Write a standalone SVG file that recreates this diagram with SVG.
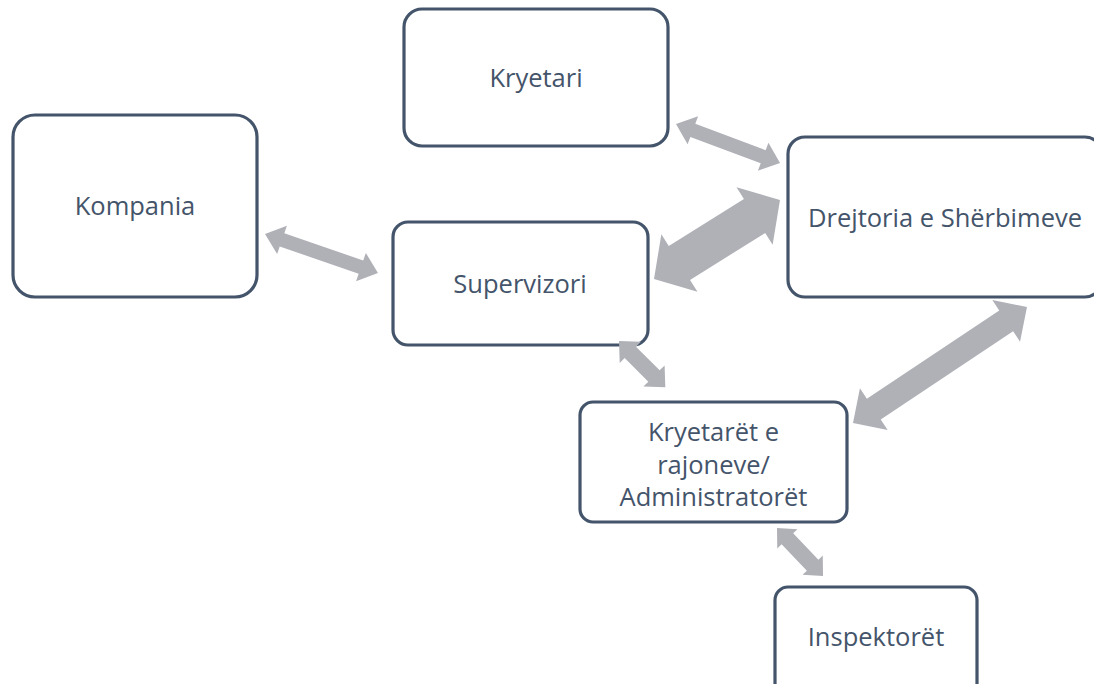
<svg xmlns="http://www.w3.org/2000/svg" width="1094" height="684" viewBox="0 0 1094 684">
<style>
.box{fill:#ffffff;stroke:#44546A;stroke-width:3.2}
.lbl{font-family:"Open Sans","Noto Sans",sans-serif;font-size:25.5px;fill:#44546A;text-anchor:middle}
.arr{fill:#AFB1B7;stroke:none}
</style>
<rect width="1094" height="684" fill="#ffffff"/>
<g id="kompania"><rect class="box" x="13" y="115" width="244" height="182" rx="22"/><text class="lbl" x="135" y="215">Kompania</text></g>
<g id="kryetari"><rect class="box" x="404" y="9" width="264" height="137" rx="18"/><text class="lbl" x="536" y="87">Kryetari</text></g>
<g id="supervizori"><rect class="box" x="393" y="222" width="255" height="123" rx="15"/><text class="lbl" x="520" y="293">Supervizori</text></g>
<g id="drejtoria"><rect class="box" x="788" y="137" width="314" height="160" rx="17"/><text class="lbl" x="945" y="227">Drejtoria e Shërbimeve</text></g>
<g id="kryetaret"><rect class="box" x="580" y="402" width="267" height="120" rx="13"/><text class="lbl" x="713.5" y="441">Kryetarët e</text><text class="lbl" x="713.5" y="474">rajoneve/</text><text class="lbl" x="713.5" y="506">Administratorët</text></g>
<g id="inspektoret"><rect class="box" x="775" y="587" width="202" height="113" rx="13"/><text class="lbl" x="876" y="646">Inspektorët</text></g>
<g id="connectors">
<polygon class="arr" transform="translate(676,124) rotate(20.56)" points="0,0 18,-15 18,-7 93.1,-7 93.1,-15 111.1,0 93.1,15 93.1,7 18,7 18,15"/>
<polygon class="arr" transform="translate(654,279) rotate(-32.09)" points="0,0 30,-34 30,-20 118.7,-20 118.7,-34 148.7,0 118.7,34 118.7,20 30,20 30,34"/>
<polygon class="arr" transform="translate(265,234) rotate(19.04)" points="0,0 18,-15 18,-7 101.5,-7 101.5,-15 119.5,0 101.5,15 101.5,7 18,7 18,15"/>
<polygon class="arr" transform="translate(853,423) rotate(-33.69)" points="0,0 25,-25 25,-12.5 184.1,-12.5 184.1,-25 209.1,0 184.1,25 184.1,12.5 25,12.5 25,25"/>
<polygon class="arr" transform="translate(619,341) rotate(45)" points="0,0 16,-15 16,-8 49.5,-8 49.5,-15 65.5,0 49.5,15 49.5,8 16,8 16,15"/>
<polygon class="arr" transform="translate(777,528) rotate(46.2)" points="0,0 15,-14 15,-8 51.5,-8 51.5,-14 66.5,0 51.5,14 51.5,8 15,8 15,14"/>
</g>
</svg>
